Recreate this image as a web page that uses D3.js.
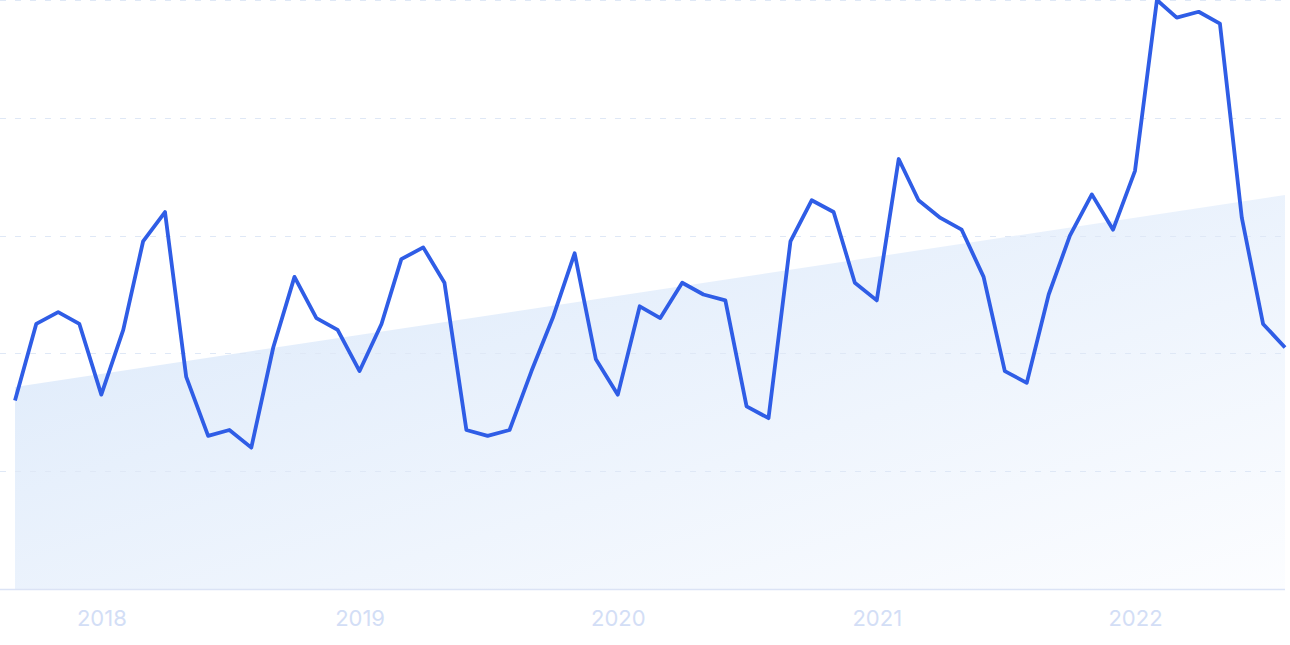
<!DOCTYPE html>
<html>
<head>
<meta charset="utf-8">
<script src="https://cdn.jsdelivr.net/npm/d3@7"></script>
<style>
  body { margin: 0; background: #fff; }
  svg { display: block; }
  .tick text { font-family: Inter, "Noto Sans", sans-serif; }
</style>
</head>
<body>
<script>
//monthly values, Sep 2017 - Aug 2022 (relative interest, 0-100)
var months = d3.timeMonths(new Date(2017, 8, 1), new Date(2022, 8, 1));
var values = [32, 45, 47, 45, 33, 44, 59, 64, 36, 26, 27, 24,
              41, 53, 46, 44, 37, 45, 56, 58, 52, 27, 26, 27,
              37, 46, 57, 39, 33, 48, 46, 52, 50, 49, 31, 29,
              59, 66, 64, 52, 49, 73, 66, 63, 61, 53, 37, 35,
              50, 60, 67, 61, 71, 100, 97, 98, 96, 63, 45, 41];
var trendValues = [34.3, 66.9]; //start / end of trend band
var yTicks = [0, 20, 40, 60, 80, 100];
var yearTicks = [2018, 2019, 2020, 2021, 2022];

var width = 1290,
    height = 645,
    plotLeft = 15,
    plotRight = 1285,
    plotBottom = 589,
    plotTop = 0;

var svg = d3.select("body")
    .append("svg")
    .attr("width", width)
    .attr("height", height);

var x = d3.scaleTime()
    .domain([months[0], months[months.length - 1]])
    .range([plotLeft, plotRight]);

var y = d3.scaleLinear()
    .domain([0, 100])
    .range([plotBottom, plotTop]);

//gradient for the trend band
var defs = svg.append("defs");
var grad = defs.append("linearGradient")
    .attr("id", "trendFill")
    .attr("x1", "0%").attr("y1", "0%")
    .attr("x2", "100%").attr("y2", "100%");
grad.append("stop").attr("offset", "0%").attr("stop-color", "#dae8fa");
grad.append("stop").attr("offset", "100%").attr("stop-color", "#fcfdff");

//trend band
var trendData = [
    {date: months[0], v: trendValues[0]},
    {date: months[months.length - 1], v: trendValues[1]}
];
svg.append("path")
    .datum(trendData)
    .attr("fill", "url(#trendFill)")
    .attr("d", d3.area()
        .x(function(d){ return x(d.date); })
        .y0(plotBottom)
        .y1(function(d){ return y(d.v); }));

//dashed gridlines
svg.selectAll(".grid")
    .data(yTicks.slice(1))
    .enter()
    .append("line")
    .attr("class", "grid")
    .attr("x1", 0)
    .attr("x2", plotRight)
    .attr("y1", function(d){ return Math.round(y(d)) + 0.5; })
    .attr("y2", function(d){ return Math.round(y(d)) + 0.5; })
    .attr("stroke", "#dfe8f6")
    .attr("stroke-width", 1.2)
    .attr("stroke-dasharray", "6,9");

//baseline
svg.append("line")
    .attr("x1", 0)
    .attr("x2", plotRight)
    .attr("y1", plotBottom + 0.5)
    .attr("y2", plotBottom + 0.5)
    .attr("stroke", "#dbe3f5")
    .attr("stroke-width", 1.5);

//x axis
var xAxis = d3.axisBottom(x)
    .tickValues(yearTicks.map(function(yr){ return new Date(yr, 0, 1); }))
    .tickFormat(d3.timeFormat("%Y"))
    .tickSize(0)
    .tickPadding(21);

var axis = svg.append("g")
    .attr("transform", "translate(0," + plotBottom + ")")
    .call(xAxis);
axis.select(".domain").remove();
axis.selectAll("text")
    .attr("fill", "#d3def6")
    .attr("font-size", "22px");

//main line
svg.append("path")
    .datum(values)
    .attr("fill", "none")
    .attr("stroke", "#2f5de6")
    .attr("stroke-width", 3.8)
    .attr("stroke-linejoin", "round")
    .attr("d", d3.line()
        .x(function(d, i){ return x(months[i]); })
        .y(function(d){ return y(d); }));
</script>
</body>
</html>
